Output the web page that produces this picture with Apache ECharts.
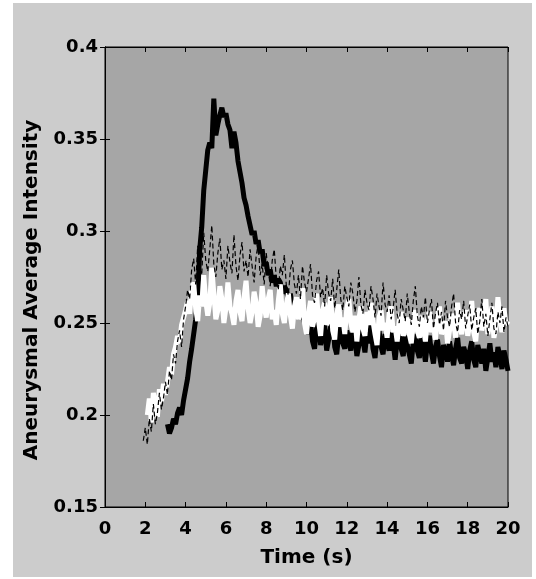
<!DOCTYPE html>
<html>
<head>
<meta charset="utf-8">
<script src="https://cdn.jsdelivr.net/npm/echarts@6/dist/echarts.min.js"></script>
<style>
html,body{margin:0;padding:0;background:#ffffff;}
#chart{width:536px;height:579px;}
</style>
</head>
<body>
<div id="chart"></div>
<script>
// Sample times (s)
var times = [
  1.9, 2.0,
  2.1, 2.2, 2.3, 2.4, 2.5, 2.6, 2.7, 2.8, 2.9, 3.0,
  3.1, 3.2, 3.3, 3.4, 3.5, 3.6, 3.7, 3.8, 3.9, 4.0,
  4.1, 4.2, 4.3, 4.4, 4.5, 4.6, 4.7, 4.8, 4.9, 5.0,
  5.1, 5.2, 5.3, 5.4, 5.5, 5.6, 5.7, 5.8, 5.9, 6.0,
  6.1, 6.2, 6.3, 6.4, 6.5, 6.6, 6.7, 6.8, 6.9, 7.0,
  7.1, 7.2, 7.3, 7.4, 7.5, 7.6, 7.7, 7.8, 7.9, 8.0,
  8.1, 8.2, 8.3, 8.4, 8.5, 8.6, 8.7, 8.8, 8.9, 9.0,
  9.1, 9.2, 9.3, 9.4, 9.5, 9.6, 9.7, 9.8, 9.9, 10.0,
  10.1, 10.2, 10.3, 10.4, 10.5, 10.6, 10.7, 10.8, 10.9, 11.0,
  11.1, 11.2, 11.3, 11.4, 11.5, 11.6, 11.7, 11.8, 11.9, 12.0,
  12.1, 12.2, 12.3, 12.4, 12.5, 12.6, 12.7, 12.8, 12.9, 13.0,
  13.1, 13.2, 13.3, 13.4, 13.5, 13.6, 13.7, 13.8, 13.9, 14.0,
  14.1, 14.2, 14.3, 14.4, 14.5, 14.6, 14.7, 14.8, 14.9, 15.0,
  15.1, 15.2, 15.3, 15.4, 15.5, 15.6, 15.7, 15.8, 15.9, 16.0,
  16.1, 16.2, 16.3, 16.4, 16.5, 16.6, 16.7, 16.8, 16.9, 17.0,
  17.1, 17.2, 17.3, 17.4, 17.5, 17.6, 17.7, 17.8, 17.9, 18.0,
  18.1, 18.2, 18.3, 18.4, 18.5, 18.6, 18.7, 18.8, 18.9, 19.0,
  19.1, 19.2, 19.3, 19.4, 19.5, 19.6, 19.7, 19.8, 19.9, 20.0
];

// Thick black solid curve
var blackSolid = [
  null, null,
  null, null, null, null, null, null, null, null, null, null,
  0.195, 0.190, 0.193, 0.198, 0.195, 0.201, 0.204, 0.200, 0.208, 0.214,
  0.220, 0.229, 0.236, 0.244, 0.252, 0.262, 0.290, 0.302, 0.322, 0.333,
  0.344, 0.348, 0.345, 0.372, 0.352, 0.358, 0.363, 0.367, 0.362, 0.364,
  0.358, 0.355, 0.345, 0.354, 0.348, 0.338, 0.332, 0.326, 0.318, 0.314,
  0.308, 0.303, 0.298, 0.300, 0.293, 0.295, 0.288, 0.290, 0.281, 0.283,
  0.276, 0.279, 0.272, 0.276, 0.270, 0.274, 0.272, 0.266, 0.270, 0.268,
  0.262, 0.266, 0.258, 0.263, 0.257, 0.261, 0.252, 0.258, 0.250, 0.252,
  0.244, 0.251, 0.240, 0.236, 0.247, 0.253, 0.238, 0.243, 0.249, 0.235,
  0.241, 0.248, 0.252, 0.237, 0.233, 0.244, 0.250, 0.239, 0.236, 0.246,
  0.240, 0.235, 0.248, 0.243, 0.232, 0.238, 0.247, 0.241, 0.234, 0.245,
  0.239, 0.249, 0.236, 0.231, 0.242, 0.246, 0.237, 0.233, 0.244, 0.240,
  0.235, 0.245, 0.239, 0.230, 0.241, 0.247, 0.236, 0.232, 0.243, 0.238,
  0.233, 0.228, 0.240, 0.244, 0.235, 0.231, 0.242, 0.237, 0.229, 0.239,
  0.243, 0.234, 0.228, 0.237, 0.241, 0.232, 0.226, 0.238, 0.235, 0.229,
  0.240, 0.233, 0.227, 0.236, 0.242, 0.231, 0.228, 0.237, 0.233, 0.225,
  0.235, 0.240, 0.230, 0.226, 0.238, 0.233, 0.228, 0.236, 0.224, 0.231,
  0.239, 0.229, 0.234, 0.226, 0.237, 0.232, 0.225, 0.235, 0.230, 0.224
];

// Thick white curve
var whiteSolid = [
  null, null,
  0.200, 0.209, 0.196, 0.212, 0.205, 0.199, 0.214, 0.207, 0.217, 0.211,
  0.218, 0.226, 0.222, 0.233, 0.237, 0.243, 0.239, 0.249, 0.253, 0.257,
  0.262, 0.255, 0.268, 0.272, 0.258, 0.251, 0.265, 0.259, 0.276, 0.262,
  0.254, 0.261, 0.280, 0.266, 0.252, 0.257, 0.270, 0.263, 0.250, 0.258,
  0.272, 0.259, 0.255, 0.249, 0.262, 0.268, 0.256, 0.251, 0.264, 0.273,
  0.258, 0.250, 0.256, 0.267, 0.261, 0.248, 0.254, 0.270, 0.259, 0.253,
  0.263, 0.268, 0.252, 0.257, 0.249, 0.262, 0.271, 0.255, 0.250, 0.260,
  0.266, 0.254, 0.247, 0.259, 0.264, 0.252, 0.256, 0.269, 0.250, 0.244,
  0.255, 0.262, 0.248, 0.253, 0.266, 0.251, 0.243, 0.257, 0.261, 0.249,
  0.252, 0.264, 0.246, 0.241, 0.255, 0.260, 0.248, 0.253, 0.244, 0.258,
  0.263, 0.250, 0.245, 0.254, 0.240, 0.252, 0.259, 0.247, 0.243, 0.256,
  0.249, 0.261, 0.251, 0.244, 0.238, 0.253, 0.257, 0.246, 0.250, 0.242,
  0.255, 0.259, 0.245, 0.248, 0.240, 0.251, 0.256, 0.243, 0.247, 0.253,
  0.244, 0.239, 0.250, 0.257, 0.246, 0.242, 0.254, 0.248, 0.240, 0.252,
  0.256, 0.245, 0.249, 0.241, 0.253, 0.259, 0.244, 0.247, 0.251, 0.239,
  0.246, 0.255, 0.250, 0.242, 0.261, 0.248, 0.244, 0.252, 0.257, 0.243,
  0.249, 0.262, 0.245, 0.240, 0.254, 0.258, 0.246, 0.251, 0.263, 0.244,
  0.250, 0.259, 0.242, 0.248, 0.264, 0.253, 0.245, 0.258, 0.249, 0.251
];

// Thin black dashed curve
var blackDashed = [
  0.186, 0.193,
  0.184, 0.198, 0.191, 0.206, 0.195, 0.201, 0.212, 0.203, 0.209, 0.218,
  0.211, 0.224, 0.219, 0.233, 0.228, 0.240, 0.246, 0.237, 0.252, 0.259,
  0.268, 0.263, 0.279, 0.285, 0.271, 0.292, 0.280, 0.276, 0.299, 0.284,
  0.278, 0.290, 0.303, 0.282, 0.275, 0.288, 0.296, 0.279, 0.284, 0.274,
  0.292, 0.283, 0.277, 0.298, 0.281, 0.273, 0.287, 0.294, 0.278, 0.284,
  0.275, 0.290, 0.281, 0.272, 0.286, 0.293, 0.276, 0.282, 0.271, 0.288,
  0.279, 0.270, 0.284, 0.290, 0.274, 0.268, 0.281, 0.276, 0.287, 0.270,
  0.265, 0.279, 0.284, 0.271, 0.266, 0.276, 0.263, 0.281, 0.272, 0.267,
  0.274, 0.282, 0.265, 0.261, 0.273, 0.278, 0.264, 0.269, 0.259, 0.276,
  0.266, 0.262, 0.274, 0.258, 0.268, 0.279, 0.263, 0.257, 0.270, 0.264,
  0.259, 0.272, 0.266, 0.256, 0.262, 0.275, 0.260, 0.255, 0.268, 0.261,
  0.257, 0.270, 0.263, 0.253, 0.266, 0.259, 0.254, 0.272, 0.260, 0.256,
  0.265, 0.252, 0.258, 0.268, 0.255, 0.250, 0.263, 0.257, 0.251, 0.266,
  0.256, 0.249, 0.262, 0.270, 0.254, 0.248, 0.259, 0.253, 0.264, 0.250,
  0.257, 0.263, 0.247, 0.255, 0.261, 0.249, 0.256, 0.246, 0.262, 0.253,
  0.248, 0.259, 0.266, 0.250, 0.245, 0.257, 0.252, 0.262, 0.247, 0.254,
  0.260, 0.246, 0.253, 0.258, 0.244, 0.251, 0.263, 0.248, 0.255, 0.243,
  0.252, 0.261, 0.247, 0.244, 0.256, 0.250, 0.259, 0.245, 0.253, 0.248
];

var xTicks = [0, 2, 4, 6, 8, 10, 12, 14, 16, 18, 20];
var yTicks = [0.15, 0.2, 0.25, 0.3, 0.35, 0.4];

function pairs(vals) {
  var out = [];
  for (var i = 0; i < times.length && i < vals.length; i++) {
    if (vals[i] !== null) out.push([times[i], vals[i]]);
  }
  return out;
}

var FONT = '"DejaVu Sans", Verdana, sans-serif';
var chart = echarts.init(document.getElementById('chart'), null, {renderer: 'canvas'});

var tickInside = {show: true, inside: true, length: 5, lineStyle: {color: '#000', width: 1}};

chart.setOption({
  backgroundColor: '#ffffff',
  animation: false,
  graphic: [{
    type: 'rect', z: -100, silent: true,
    shape: {x: 13, y: 3, width: 519, height: 574},
    style: {fill: '#cccccc'}
  }],
  grid: {
    left: 105, top: 47, right: 28, bottom: 72,
    show: true, backgroundColor: '#a6a6a6', borderColor: '#000', borderWidth: 1
  },
  xAxis: [{
    type: 'value', min: xTicks[0], max: xTicks[xTicks.length - 1], interval: 2,
    position: 'bottom',
    name: 'Time (s)', nameLocation: 'middle', nameGap: 41,
    nameTextStyle: {fontFamily: FONT, fontWeight: 'bold', fontSize: 20, color: '#000'},
    axisLine: {show: true, lineStyle: {color: '#000', width: 1}},
    axisTick: tickInside,
    axisLabel: {fontFamily: FONT, fontWeight: 'bold', fontSize: 18, color: '#000', margin: 13},
    splitLine: {show: false}
  }, {
    type: 'value', min: xTicks[0], max: xTicks[xTicks.length - 1], interval: 2,
    position: 'top',
    axisLine: {show: true, lineStyle: {color: '#000', width: 1}},
    axisTick: tickInside,
    axisLabel: {show: false},
    splitLine: {show: false}
  }],
  yAxis: [{
    type: 'value', min: yTicks[0], max: yTicks[yTicks.length - 1], interval: 0.05,
    position: 'left',
    name: 'Aneurysmal Average Intensity', nameLocation: 'middle', nameGap: 63,
    nameTextStyle: {fontFamily: FONT, fontWeight: 'bold', fontSize: 20, color: '#000',
      padding: [0, 26, 0, 0]},
    axisLine: {show: true, lineStyle: {color: '#000', width: 1}},
    axisTick: tickInside,
    axisLabel: {fontFamily: FONT, fontWeight: 'bold', fontSize: 18, color: '#000', margin: 7,
      formatter: function (v) { return String(+v.toFixed(2)); }},
    splitLine: {show: false}
  }, {
    type: 'value', min: yTicks[0], max: yTicks[yTicks.length - 1], interval: 0.05,
    position: 'right',
    axisLine: {show: true, lineStyle: {color: '#000', width: 1}},
    axisTick: tickInside,
    axisLabel: {show: false},
    splitLine: {show: false}
  }],
  series: [{
    name: 'black', type: 'line', data: pairs(blackSolid), showSymbol: false, symbol: 'none',
    lineStyle: {color: '#000000', width: 5}, z: 2
  }, {
    name: 'white', type: 'line', data: pairs(whiteSolid), showSymbol: false, symbol: 'none',
    lineStyle: {color: '#ffffff', width: 5}, z: 3
  }, {
    name: 'dashed', type: 'line', data: pairs(blackDashed), showSymbol: false, symbol: 'none',
    lineStyle: {color: '#000000', width: 1.2, type: [5, 3]}, z: 4
  }]
});
</script>
</body>
</html>
